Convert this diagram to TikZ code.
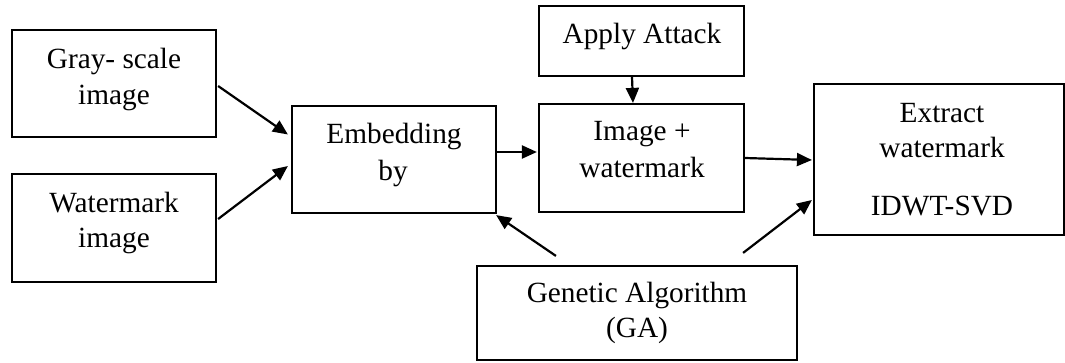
\documentclass[tikz,border=0pt]{standalone}
\usepackage{fontspec}
\setmainfont{Liberation Serif}
\usetikzlibrary{arrows.meta,calc}
\begin{document}
\begin{tikzpicture}[x=1pt,y=-1pt,
  box/.style={draw,line width=2.2pt,rectangle,inner sep=0pt},
  txt/.style={inner sep=0pt,anchor=base,font=\fontsize{29.3}{36}\selectfont},
  arr/.style={line width=2.2pt,-{Triangle[length=15pt,width=13pt]}}]
\useasboundingbox (0,0) rectangle (1065,362);
% boxes
\node[box,minimum width=204pt,minimum height=107pt] (gray) at (114,83.5) {};
\node[box,minimum width=204pt,minimum height=108pt] (wm) at (114,228) {};
\node[box,minimum width=204pt,minimum height=107pt] (emb) at (394,159.5) {};
\node[box,minimum width=205pt,minimum height=70pt] (attack) at (641.5,41) {};
\node[box,minimum width=205pt,minimum height=108pt] (img) at (641.5,158) {};
\node[box,minimum width=250pt,minimum height=151pt] (ext) at (939,159.5) {};
\node[box,minimum width=320pt,minimum height=94pt] (ga) at (637,313) {};
% texts
\node[txt] (gray1) at (114,68) {Gray- scale};
\node[txt] (gray2) at (114,104) {image};
\node[txt] (wm1) at (114,212) {Watermark};
\node[txt] (wm2) at (114,247) {image};
\node[txt] (emb1) at (394,143) {Embedding};
\node[txt] (emb2) at (393,180) {by};
\node[txt] (att1) at (642,43) {Apply Attack};
\node[txt] (img1) at (642,140) {Image +};
\node[txt] (img2) at (642,177) {watermark};
\node[txt] (ga1) at (637,302) {Genetic Algorithm};
\node[txt] (ga2) at (637,337) {(GA)};
\node[txt] (ext1) at (942,122) {Extract};
\node[txt] (ext2) at (942,157) {watermark};
\node[txt] (ext3) at (942,215) {IDWT-SVD};
% connectors
\draw[arr] ($(gray.east)+(1,2.5)$) -- ($(emb.west)+(-3,-25)$);
\draw[arr] ($(wm.east)+(1,-9)$) -- ($(emb.west)+(-3,6.5)$);
\draw[arr] ($(emb.east)+(0,-7.5)$) -- ($(img.west)+(-1,-6)$);
\draw[arr] ($(attack.south)+(-9.5,0)$) -- ($(img.north)+(-8.5,0)$);
\draw[arr] ($(img.east)+(0,0)$) -- ($(ext.west)+(-1,0.5)$);
\draw[arr] ($(ga.north west)+(80,-9)$) -- ($(emb.south east)+(-1,1)$);
\draw[arr] ($(ga.north east)+(-55,-12)$) -- ($(ext.west)+(-1,40.5)$);
\end{tikzpicture}
\end{document}
